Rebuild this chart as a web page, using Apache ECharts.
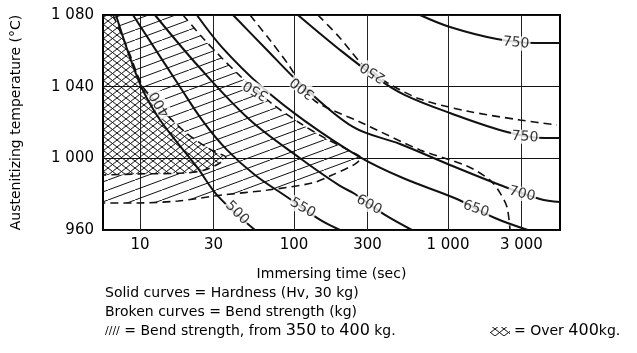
<!DOCTYPE html>
<html><head><meta charset="utf-8">
<script src="https://cdn.jsdelivr.net/npm/echarts@6/dist/echarts.min.js"></script>
<style>html,body{margin:0;padding:0;background:#fff}#c{width:637px;height:353px}</style>
</head><body><div id="c"></div>
<script>
// ---- axes ----
const xTicks = [10, 30, 100, 300, 1000, 3000];
const yTicks = [960, 1000, 1040, 1080];
const xMin = 5.75, xMax = 5340;

// ---- solid curves: hardness (Hv) ----  [time (s), temperature (°C)]
const hv500 = [[6.98,1080],[10,1041.5],[13.5,1021.4],[23.4,995.2],[32.1,978.9],[55.8,960]];
const hv550 = [[9.0,1080],[18.2,1039.8],[25.6,1020.8],[36.7,1004.7],[55.8,990.7],[90.1,978.4],[148,965.6],[199,960]];
const hv600 = [[12.5,1080],[24.5,1050.4],[51.8,1021.4],[109,1000.2],[199,984.6],[249,980.1],[390,968.4],[583,960]];
const hv650 = [[23.4,1080],[34.0,1062.1],[62.0,1039.8],[118,1020.8],[268,1000.7],[510,989.0],[1143,977.3],[2018,966.7],[3304,960]];
const hv700 = [[40.2,1080],[64.9,1061.6],[109,1042.0],[242,1017.5],[488,1008.0],[1030,996.3],[2178,985.1],[3955,977.3],[5340,975.6]];
const hv750a = [[106,1080],[199,1060.5],[346,1044.8],[526,1035.3],[1030,1025.3],[2417,1014.7],[4266,1011.3],[5340,1011.3]];
const hv750b = [[658,1080],[1030,1073.3],[2080,1066.6],[3673,1064.4],[5340,1064.4]];

// ---- broken curves: bend strength (kg) ----
const bs250 = [[143,1080],[199,1067.2],[268,1053.8],[326,1048.2],[407,1042.0],[658,1033.1],[1328,1026.4],[2937,1021.4],[5103,1018.6]];
const bs300 = [[51.8,1080],[69.8,1066.0],[94.2,1051.0],[114,1039.3],[143,1030.9],[268,1020.3],[658,1004.7],[1328,995.7],[1874,987.9],[2178,980.7],[2417,972.8],[2529,960]];
const bs350 = [[19.0,1080],[25.6,1067.2],[34.0,1056.0],[44.6,1046.0],[56.6,1038.1],[75.3,1029.2],[109,1019.7],[159,1011.3],[231,1004.1],[272,1000.2],[249,996.8],[171,990.1],[131,986.2],[67.8,982.3],[34.0,979.5],[17.7,976.2],[9.70,975.1],[5.75,975.1]];
const bs400 = [[6.68,1080],[8.36,1060.5],[10.3,1040.9],[12.0,1033.7],[13.5,1030.3],[15.7,1022.5],[19.6,1014.7],[24.5,1008.6],[30.7,1003.5],[36.1,1000.7],[33.0,997.4],[26.4,993.5],[19.6,991.8],[10,991.3],[5.75,990.7]];

// ---- curve labels ----  [text, time, temperature]
const hvLabels = [['500',42.7,969.5],['550',114,972.3],['600',307,974.0],['650',1520,971.7],['700',3027,980.1],['750',3162,1011.9],['750',2768,1064.4]];
const bsLabels = [['250',326,1048.2],['300',114,1039.3],['350',56.6,1038.1],['400',13.5,1030.3]];

// styles (rotations of the labels)
const hvRot = [-45,-30,-28,-18,-14,-4,-6];
const bsRot = [148,142,150,120];

const FONT = '"DejaVu Sans", "Noto Sans", sans-serif';

function hatch(w, h, cross) {
  const c = document.createElement('canvas'); c.width = w; c.height = h;
  const g = c.getContext('2d'); g.strokeStyle = '#111'; g.lineWidth = 1;
  g.beginPath();
  for (const dx of [-w, 0, w]) { g.moveTo(dx, h); g.lineTo(dx + w, 0); }
  if (cross) for (const dx of [-w, 0, w]) { g.moveTo(dx, 0); g.lineTo(dx + w, h); }
  g.stroke();
  return c;
}
const singlePat = { image: hatch(27, 10, false), repeat: 'repeat' };
const crossPat = { image: hatch(9, 7, true), repeat: 'repeat' };

// 350–400 kg region: inside 350 curve, outside 400 curve
const region350 = bs350.concat(bs400.slice().reverse());
// over 400 kg region
const region400 = bs400.concat([[xMin, 1080]]);

function polygon(pts, fill) {
  return {
    type: 'custom', silent: true, z: 1, clip: true,
    data: [pts[0]],
    renderItem: function (params, api) {
      return { type: 'polygon', shape: { points: pts.map(p => api.coord(p)) }, style: { fill: fill, stroke: null } };
    }
  };
}
function solid(d) {
  return { type: 'line', data: d, smooth: 0.35, symbol: 'none', z: 3, silent: true,
    lineStyle: { color: '#111', width: 2 } };
}
function broken(d) {
  return { type: 'line', data: d, smooth: 0.3, symbol: 'none', z: 3, silent: true,
    lineStyle: { color: '#111', width: 1.6, type: [8, 5] } };
}
function labels(arr, rot) {
  return { type: 'scatter', symbolSize: 0, z: 10, silent: true,
    data: arr.map((d, i) => ({ name: d[0], value: [d[1], d[2]], label: { rotate: rot[i] } })),
    label: { show: true, position: 'inside', formatter: '{b}', fontSize: 14, fontFamily: FONT,
      color: '#000', backgroundColor: '#fff', padding: [0, 1] } };
}
const fmt = v => v >= 1000 ? Math.floor(v / 1000) + ' ' + String(v % 1000).padStart(3, '0') : String(v);

const chart = echarts.init(document.getElementById('c'), null, { renderer: 'canvas' });
chart.setOption({
  animation: false,
  backgroundColor: '#fff',
  grid: { left: 103, right: 77, top: 15, bottom: 123, show: true, borderColor: '#000', borderWidth: 2 },
  xAxis: {
    type: 'log', logBase: 10, min: xMin, max: xMax,
    axisLine: { show: false },
    axisTick: { show: false, customValues: xTicks },
    axisLabel: { customValues: xTicks, formatter: fmt, fontSize: 15, fontFamily: FONT, color: '#000', margin: 8 },
    splitLine: { show: true, lineStyle: { color: '#222', width: 1 } },
    minorSplitLine: { show: false },
    name: 'Immersing time (sec)', nameLocation: 'middle', nameGap: 37,
    nameTextStyle: { fontSize: 14, fontFamily: FONT, color: '#000' }
  },
  yAxis: {
    type: 'value', min: 960, max: 1080, interval: 40,
    axisLine: { show: false }, axisTick: { show: false },
    axisLabel: { formatter: fmt, fontSize: 15, fontFamily: FONT, color: '#000', margin: 9 },
    splitLine: { show: true, lineStyle: { color: '#111', width: 1 } },
    name: 'Austenitizing temperature (°C)', nameLocation: 'middle', nameGap: 80,
    nameTextStyle: { fontSize: 14, fontFamily: FONT, color: '#000' }
  },
  series: [
    polygon(region350, singlePat),
    polygon(region400, crossPat),
    solid(hv500), solid(hv550), solid(hv600), solid(hv650), solid(hv700), solid(hv750a), solid(hv750b),
    broken(bs250), broken(bs300), broken(bs350), broken(bs400),
    labels(hvLabels, hvRot), labels(bsLabels, bsRot)
  ],
  graphic: [
    { type: 'text', left: 105, top: 286, style: { text: 'Solid curves = Hardness (Hv, 30 kg)', font: '14px ' + FONT, fill: '#000' } },
    { type: 'text', left: 105, top: 305, style: { text: 'Broken curves = Bend strength (kg)', font: '14px ' + FONT, fill: '#000' } },
    { type: 'text', left: 105, top: 323, style: {
        text: '{s|////} = Bend strength, from {n|350} to {n|400} kg.',
        font: '14px ' + FONT, fill: '#000',
        rich: { s: { fontSize: 11, fontFamily: FONT, fill: '#000' }, n: { fontSize: 16, fontFamily: FONT, fill: '#000' } } } },
    { type: 'rect', shape: { x: 490, y: 327, width: 20, height: 9 }, style: { fill: crossPat } },
    { type: 'text', left: 514, top: 323, style: {
        text: '= Over {n|400}kg.', font: '14px ' + FONT, fill: '#000',
        rich: { n: { fontSize: 16, fontFamily: FONT, fill: '#000' } } } }
  ]
});
</script></body></html>
